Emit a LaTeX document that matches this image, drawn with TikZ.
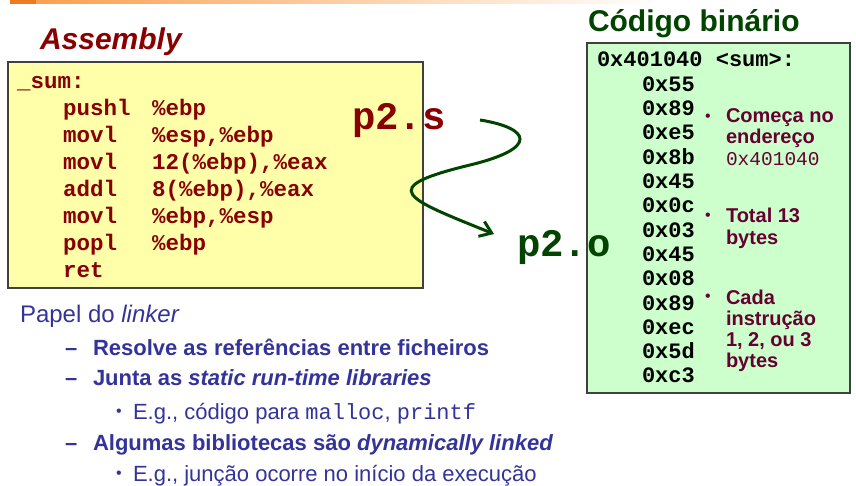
\documentclass[tikz,border=0pt]{standalone}
\usepackage{fontspec}
\setmainfont{Liberation Sans}
\setmonofont{Liberation Mono}
\usetikzlibrary{positioning,arrows.meta}
\definecolor{asmred}{HTML}{880000}
\definecolor{bingreen}{HTML}{004400}
\definecolor{notepurple}{HTML}{660033}
\definecolor{linkblue}{HTML}{333399}
\definecolor{asmfill}{HTML}{FFFFAA}
\definecolor{binfill}{HTML}{CCFFCC}
\definecolor{barorange}{HTML}{F07A1E}
\definecolor{barlight}{HTML}{F9A050}
\tikzset{
  txt/.style={anchor=base west, inner sep=0pt, outer sep=0pt},
  heading/.style={txt, font=\fontsize{30}{36}\selectfont\bfseries},
  asm/.style={txt, font=\fontsize{22.5}{26}\selectfont\ttfamily\bfseries, text=asmred},
  byte/.style={txt, font=\fontsize{22}{26}\selectfont\ttfamily\bfseries},
  file/.style={txt, font=\fontsize{39}{44}\selectfont\ttfamily\bfseries},
  note/.style={txt, font=\fontsize{20}{23}\selectfont\bfseries, text=notepurple},
  bulletdot/.style={inner sep=0pt, font=\fontsize{16}{16}\selectfont},
  lvone/.style={txt, font=\fontsize{24}{28}\selectfont, text=linkblue},
  lvtwo/.style={txt, font=\fontsize{22}{26}\selectfont\bfseries, text=linkblue},
  lvthree/.style={txt, font=\fontsize{22}{26}\selectfont, text=linkblue},
  panel/.style={draw=black!75, line width=1.5pt},
}
\begin{document}
\begin{tikzpicture}[x=1pt,y=-1pt]
\useasboundingbox (0,0) rectangle (856,486);
% top bar
\fill[barorange] (10,0) rectangle (36,4);
\shade[left color=barlight,right color=white] (36,0) rectangle (660,4);

% assembly
\draw[panel, fill=asmfill] (8,62) rectangle (423,288);
\node[heading, text=asmred] (asmtitle) at (40,50) {\itshape Assembly};
\node[asm] (lbl) at (17,89) {\_sum:};
\foreach \mn [count=\i] in {pushl,movl,movl,addl,movl,popl,ret}
  \node[asm] (mn\i) at (63,89+\i*26.86) {\mn};
\foreach \op [count=\i] in {\%ebp,{\%esp,\%ebp},{12(\%ebp),\%eax},{8(\%ebp),\%eax},{\%ebp,\%esp},\%ebp}
  \node[asm] (op\i) at (152,89+\i*26.86) {\op};

% binary code
\draw[panel, fill=binfill] (587,43) rectangle (850,393);
\node[heading, text=bingreen] (bintitle) at (588,32) {Código binário};
\node[byte] (addr) at (597,67) {0x401040 <sum>:};
\foreach \b [count=\i] in {55,89,e5,8b,45,0c,03,45,08,89,ec,5d,c3}
  \node[byte] (b\i) at (642,67+\i*24.3) {0x\b};

% notes
\node[bulletdot, text=notepurple] (n1dot) at (708,118) {•};
\node[note] (n1a) at (726,123) {Começa no};
\node[note] (n1b) at (726,144) {endereço};
\node[note, font=\fontsize{19.5}{23}\selectfont\ttfamily] (n1c) at (726,166) {0x401040};
\node[bulletdot, text=notepurple] (n2dot) at (708,217) {•};
\node[note] (n2a) at (726,223) {Total 13};
\node[note] (n2b) at (726,245) {bytes};
\node[bulletdot, text=notepurple] (n3dot) at (708,298) {•};
\node[note] (n3a) at (726,304) {Cada};
\node[note] (n3b) at (726,325) {instrução};
\node[note] (n3c) at (726,346.5) {1, 2, ou 3};
\node[note] (n3d) at (726,367) {bytes};

% files and arrow
\node[file, text=asmred] (p2s) at (352,130) {p2.s};
\node[file, text=bingreen] (p2o) at (517,257) {p2.o};
\coordinate (arrS) at (480,120);
\coordinate (arrE) at (494,234);
\draw[bingreen, line width=3pt, -{Straight Barb[length=11pt,width=16pt]}]
  (arrS) .. controls (530,128) and (540,148) .. (470,165)
  .. controls (375,188) and (405,198) .. (arrE);

% linker
\node[lvone] (role) at (20,322) {Papel do \textit{linker}};
\node[lvtwo] (d1) at (65,355) {–};
\node[lvtwo] (t1) at (93,355) {Resolve as referências entre ficheiros};
\node[lvtwo] (d2) at (65,385) {–};
\node[lvtwo] (t2) at (93,385) {Junta as \textit{static run-time libraries}};
\node[bulletdot, text=linkblue] (e1dot) at (119,413) {•};
\node[lvthree] (e1) at (133,419) {E.g., código para \texttt{malloc}, \texttt{printf}};
\node[lvtwo] (d3) at (65,450) {–};
\node[lvtwo] (t3) at (93,450) {Algumas bibliotecas são \textit{dynamically linked}};
\node[bulletdot, text=linkblue] (e2dot) at (119,475) {•};
\node[lvthree] (e2) at (133,481) {E.g., junção ocorre no início da execução};
\end{tikzpicture}
\end{document}
